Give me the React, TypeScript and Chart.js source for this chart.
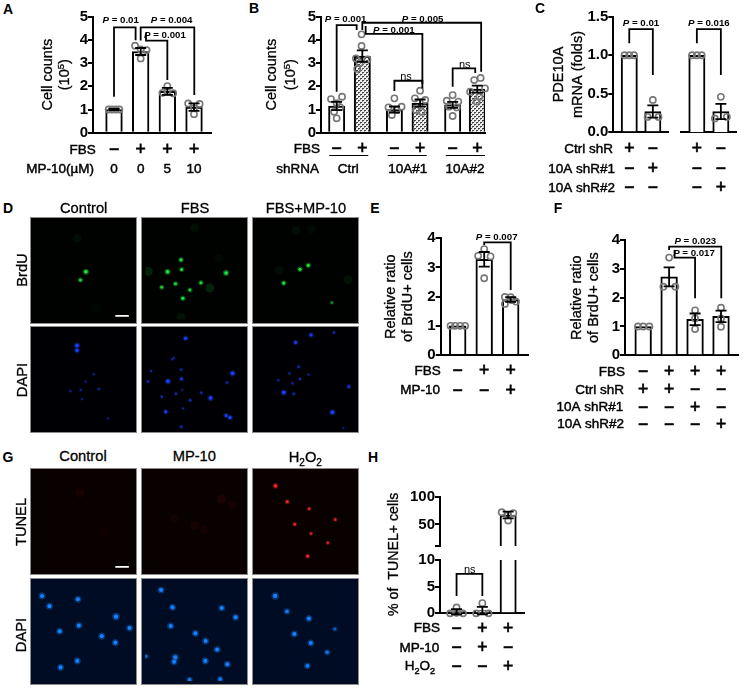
import React, { useEffect, useRef } from "react";
import { Chart, registerables } from "chart.js";

Chart.register(...registerables);

const FONT = '"Liberation Sans"';

// ---------- A ----------
const aX = [1, 2, 3, 4];
const aMeans = [1.0, 3.5, 1.78, 1.1];
const aErrs = [0.03, 0.15, 0.15, 0.16];
const aPoints = [[1, 1, 1, 1], [3.75, 3.56, 3.59, 3.2], [2.01, 1.72, 1.7, 1.77], [1.26, 1.24, 1.05, 0.8]];
const aJitter = [[-0.2, -0.07, 0.07, 0.2], [-0.21, 0.22, 0, 0], [0, -0.18, 0.22, 0], [-0.22, 0.21, 0, 0]];
const aFbs = ["-", "+", "+", "+"];
const aMp10 = ["0", "0", "5", "10"];

// ---------- B ----------
const bX = [1, 2, 3.25, 4.25, 5.52, 6.48];
const bMeans = [1.15, 3.3, 1.0, 1.28, 1.2, 1.88];
const bErrs = [0.18, 0.25, 0.13, 0.15, 0.13, 0.15];
const bPoints = [
  [1.45, 1.55, 1.27, 1.1, 0.9, 0.62],
  [4.24, 3.74, 3.2, 3.16, 3.0, 2.75],
  [1.48, 1.12, 1.09, 0.98, 0.76],
  [1.81, 1.48, 1.41, 0.98, 0.9],
  [1.62, 1.38, 1.34, 1.12, 1.09, 0.72],
  [2.36, 2.27, 1.91, 1.77, 1.55, 1.34],
];
const bJitter = [
  [-0.22, 0.21, 0, 0.13, -0.1, 0],
  [-0.03, -0.03, -0.25, 0.2, -0.1, -0.2],
  [0, 0.28, -0.23, 0.09, -0.1],
  [0, -0.2, 0.2, -0.16, 0.06],
  [0, -0.23, 0.22, -0.14, 0.16, 0],
  [0.13, -0.12, 0.3, -0.28, 0.08, -0.03],
];
const bFbs = ["-", "+", "-", "+", "-", "+"];
const bGroups = ["Ctrl", "10A#1", "10A#2"];

// ---------- C ----------
const cX = [1, 2];
const c1Means = [1.0, 0.27];
const c1Errs = [0.0, 0.08];
const c1Points = [[1, 1, 1], [0.42, 0.2, 0.2]];
const c1Jitter = [[-0.2, 0, 0.2], [0, -0.22, 0.24]];
const c2Means = [1.0, 0.27];
const c2Errs = [0.0, 0.1];
const c2Points = [[1, 1, 1], [0.46, 0.18, 0.2]];
const c2Jitter = [[-0.2, 0, 0.2], [0, -0.25, 0.25]];

// ---------- E ----------
const eX = [1, 2, 3];
const eMeans = [1.0, 3.28, 1.9];
const eErrs = [0.0, 0.25, 0.08];
const ePoints = [[1, 1, 1, 1], [3.63, 3.4, 3.38, 2.63], [1.99, 1.98, 1.75, 1.83, 1.88]];
const eJitter = [[-0.27, -0.1, 0.09, 0.28], [0, -0.23, 0.24, 0], [-0.22, 0, -0.22, 0.2, 0.05]];

// ---------- F ----------
const fX = [1, 2, 3, 4];
const fMeans = [1.0, 2.72, 1.25, 1.35];
const fErrs = [0.0, 0.33, 0.2, 0.2];
const fPoints = [[1, 1, 1], [3.39, 2.38, 2.38], [1.56, 1.28, 0.91], [1.65, 1.28, 0.99]];
const fJitter = [[-0.2, 0, 0.24], [0, -0.22, 0.24], [0, 0, 0], [0, 0, 0]];

// ---------- H ----------
const hX = [1, 2, 3];
const hMeansLow = [0.3, 0.5, 67];
const hErrsLow = [0.5, 0.7, null];
const hPointsLow = [[0, 1.1, 0, 0.1], [0, 1.9, 0], []];
const hJitterLow = [[-0.25, 0, 0.25, 0], [-0.24, 0, 0.24], []];
const hMeansHigh = [null, null, 67];
const hErrsHigh = [null, null, 6];
const hPointsHigh = [[], [], [72, 70.5, 57, 67]];
const hJitterHigh = [[], [], [-0.25, 0.2, 0, 0]];

// ---------- shared row labels ----------
const rowCtrlC1 = ["+", "-"];
const rowShr1C1 = ["-", "+"];
const rowShr2C1 = ["-", "-"];
const rowCtrlC2 = ["+", "-"];
const rowShr1C2 = ["-", "-"];
const rowShr2C2 = ["-", "+"];
const eFbs = ["-", "+", "+"];
const eMp10 = ["-", "-", "+"];
const fFbs = ["-", "+", "+", "+"];
const fCtrl = ["+", "+", "-", "-"];
const fShr1 = ["-", "-", "+", "-"];
const fShr2 = ["-", "-", "-", "+"];
const hFbs = ["-", "+", "+"];
const hMp10 = ["-", "+", "-"];
const hH2o2 = ["-", "-", "+"];

// ---------- image panels: x, y, intensity ----------
const brduControl = [[168, 164, 1], [150, 191, 0.8], [139, 55, 0.05], [200, 280, 0.025]];
const brduFbs = [[116, 125, 0.85], [118, 157, 0.8], [72, 164, 1], [263, 168, 1], [181, 200, 0.8], [98, 203, 0.8], [53, 215, 0.75], [145, 224, 0.75], [122, 251, 0.85], [210, 217, 0.14], [9, 163, 0.14], [116, 313, 0.07], [160, 20, 0.05], [240, 120, 0.04]];
const brduMp10 = [[169, 143, 0.85], [142, 156, 0.85], [89, 201, 0.85], [246, 265, 0.5], [299, 190, 0.07], [129, 30, 0.05], [74, 160, 0.05], [180, 25, 0.04]];
const dapiControl = [[139, 50, 1], [139, 66, 0.9], [193, 143, 0.4], [167, 167, 0.35], [118, 198, 0.4], [151, 194, 0.4], [210, 191, 0.45], [155, 223, 0.35], [239, 286, 0.35]];
const dapiFbs = [[131, 27, 0.85], [93, 91, 0.4], [87, 95, 0.35], [20, 133, 0.4], [10, 166, 0.5], [117, 128, 0.5], [118, 158, 0.7], [74, 166, 1], [283, 140, 1], [265, 170, 0.5], [121, 194, 0.35], [100, 206, 0.5], [182, 203, 0.5], [54, 216, 0.5], [146, 227, 0.55], [212, 220, 1], [123, 254, 0.4], [67, 264, 0.8], [262, 276, 0.8], [275, 283, 0.9], [117, 313, 0.5]];
const dapiMp10 = [[178, 16, 0.8], [252, 8, 0.5], [128, 40, 0.8], [138, 119, 0.5], [108, 140, 0.45], [170, 144, 0.4], [142, 158, 0.5], [72, 163, 0.45], [118, 173, 0.45], [300, 183, 0.7], [90, 202, 1], [122, 206, 0.5], [247, 266, 1], [282, 318, 0.35]];
const tunelControl = [[148, 67, 0.06], [224, 190, 0.03]];
const tunelMp10 = [[248, 87, 0.08], [161, 173, 0.06], [284, 105, 0.05], [95, 150, 0.04], [192, 188, 0.04]];
const tunelH2o2 = [[63, 45, 1], [101, 96, 0.85], [172, 119, 0.75], [256, 154, 0.7], [125, 169, 0.8], [178, 199, 0.7], [232, 229, 0.7], [167, 272, 0.85]];
const gDapiControl = [[26, 45, 0.9], [142, 56, 0.9], [50, 78, 0.9], [265, 112, 1], [145, 141, 0.9], [309, 149, 0.9], [83, 159, 0.9], [219, 175, 0.9], [263, 196, 0.9], [140, 255, 0.9], [86, 276, 0.9]];
const gDapiMp10 = [[52, 26, 0.9], [89, 82, 0.9], [248, 84, 0.9], [293, 114, 0.9], [83, 142, 0.9], [163, 166, 0.9], [196, 191, 0.9], [233, 218, 0.9], [4, 240, 0.6], [98, 243, 0.9], [94, 258, 0.9], [195, 255, 0.9], [266, 266, 0.9], [144, 316, 0.8], [243, 314, 0.8]];
const gDapiH2o2 = [[62, 45, 1], [100, 95, 0.8], [171, 118, 0.9], [255, 152, 0.55], [124, 168, 0.9], [177, 197, 0.9], [230, 227, 0.75], [166, 271, 0.85]];
const scaleBarData = [[264, 308, 1], [308, 308, 1]];

type Seg = { t: string; style?: string; weight?: string; size?: number; dy?: number };

const pLabel = (v: string): Seg[] => [
  { t: "P", style: "italic", weight: "bold", size: 9.7 },
  { t: " = " + v, weight: "bold", size: 9.7 },
];
const nsLabel: Seg[] = [{ t: "ns", size: 11 }];
const h2o2Label: Seg[] = [
  { t: "H", size: 13.5 },
  { t: "2", size: 9, dy: 4 },
  { t: "O", size: 13.5 },
  { t: "2", size: 9, dy: 4 },
];
const line = (t: string): Seg[] => [{ t, size: 14.5 }];
const countTitle: Seg[][] = [
  line("Cell counts"),
  [{ t: "(10", size: 14.5 }, { t: "5", size: 9.5, dy: -5 }, { t: ")", size: 14.5 }],
];

function drawRich(ctx: CanvasRenderingContext2D, segs: Seg[], x: number, cy: number, align: "left" | "center" | "right", heavy = 0.45) {
  const fontOf = (s: Seg) => `${s.style || "normal"} ${s.weight || "normal"} ${s.size || 13.5}px ${FONT}`;
  let total = 0;
  for (const s of segs) {
    ctx.font = fontOf(s);
    total += ctx.measureText(s.t).width;
  }
  let px = align === "left" ? x : align === "center" ? x - total / 2 : x - total;
  const base = Math.max(...segs.map((s) => s.size || 13.5));
  ctx.textAlign = "left";
  ctx.textBaseline = "alphabetic";
  ctx.fillStyle = "#000";
  for (const s of segs) {
    ctx.font = fontOf(s);
    const by = cy + base * 0.36 + (s.dy || 0);
    ctx.fillText(s.t, px, by);
    if (heavy > 0) {
      ctx.lineWidth = heavy;
      ctx.strokeStyle = "#000";
      ctx.strokeText(s.t, px, by);
    }
    px += ctx.measureText(s.t).width;
  }
}

const annotate = {
  id: "annotate",
  afterDatasetsDraw(chart: any, _a: any, o: any) {
    const { ctx, scales } = chart;
    const X = scales.x;
    const Y = scales.y;
    const spec = o.spec;
    if (!spec) return;
    ctx.save();
    ctx.strokeStyle = "#000";
    ctx.lineWidth = 1.8;
    // error bars
    (spec.errs || []).forEach((e: number | null, i: number) => {
      const m = spec.means[i];
      if (e === null || m === null || e === 0) return;
      const xp = X.getPixelForValue(spec.xs[i]);
      const yH = Y.getPixelForValue(m + e);
      const yL = Y.getPixelForValue(m - e);
      ctx.lineWidth = 1.8;
      ctx.beginPath();
      ctx.moveTo(xp, yH);
      ctx.lineTo(xp, yL);
      ctx.moveTo(xp - 5.5, yH);
      ctx.lineTo(xp + 5.5, yH);
      ctx.moveTo(xp - 5.5, yL);
      ctx.lineTo(xp + 5.5, yL);
      ctx.stroke();
    });
    // brackets
    (spec.brackets || []).forEach((b: number[]) => {
      const [x1, y1, top, x2, y2] = b;
      ctx.lineWidth = 1.8;
      ctx.strokeStyle = "#000";
      ctx.beginPath();
      ctx.moveTo(X.getPixelForValue(x1), Y.getPixelForValue(y1));
      ctx.lineTo(X.getPixelForValue(x1), Y.getPixelForValue(top));
      ctx.lineTo(X.getPixelForValue(x2), Y.getPixelForValue(top));
      ctx.lineTo(X.getPixelForValue(x2), Y.getPixelForValue(y2));
      ctx.stroke();
    });
    (spec.notes || []).forEach((n: any) => {
      drawRich(ctx, n.segs, X.getPixelForValue(n.x), Y.getPixelForValue(n.y), "center", n.heavy ?? 0);
    });
    // table under the axis
    (spec.rows || []).forEach((r: any) => {
      const cy = r.y - spec.top;
      const label: Seg[] = typeof r.label === "string" ? [{ t: r.label }] : r.label;
      if (r.label) drawRich(ctx, label, r.right - spec.left, cy, "right");
      const rx = r.xs || spec.xs;
      r.marks.forEach((m: string, i: number) => {
        const xp = X.getPixelForValue(rx[i]);
        if (m === "+" || m === "-") {
          const t = m === "+" ? "+" : "\u2212";
          drawRich(ctx, [{ t, size: 17.5 }], xp, cy, "center", 0.7);
        } else {
          drawRich(ctx, [{ t: m }], xp, cy, "center");
        }
      });
    });
    (spec.rules || []).forEach((u: number[]) => {
      ctx.lineWidth = 1.2;
      ctx.strokeStyle = "#000";
      ctx.beginPath();
      ctx.moveTo(X.getPixelForValue(u[0]), u[2] - spec.top);
      ctx.lineTo(X.getPixelForValue(u[1]), u[2] - spec.top);
      ctx.stroke();
    });
    // axis titles, rotated
    if (spec.title) {
      const cyT = (spec.yTop + spec.y0) / 2 - spec.top;
      spec.title.forEach((segs: Seg[], i: number) => {
        ctx.save();
        ctx.translate(spec.titleX - spec.left + i * spec.titleLh, cyT);
        ctx.rotate(-Math.PI / 2);
        drawRich(ctx, segs, 0, 0, "center", 0.3);
        ctx.restore();
      });
    }
    if (spec.sideTitle) {
      ctx.save();
      ctx.translate(spec.sideTitle.x - spec.left, spec.sideTitle.y - spec.top);
      ctx.rotate(-Math.PI / 2);
      drawRich(ctx, [{ t: spec.sideTitle.text, size: 14.2 }], 0, 0, "center", 0.3);
      ctx.restore();
    }
    ctx.restore();
  },
};

function hatch(ctx: CanvasRenderingContext2D) {
  const c = document.createElement("canvas");
  c.width = 4;
  c.height = 4;
  const g = c.getContext("2d")!;
  g.fillStyle = "#efefef";
  g.fillRect(0, 0, 4, 4);
  g.fillStyle = "#444";
  g.fillRect(0, 0, 2, 1);
  g.fillRect(2, 2, 2, 1);
  g.fillStyle = "#888";
  g.fillRect(0, 1, 1, 1);
  g.fillRect(2, 3, 1, 1);
  return ctx.createPattern(c, "repeat")!;
}

function barConfig(spec: any, ctx: CanvasRenderingContext2D) {
  const pts: { x: number; y: number }[] = [];
  spec.points.forEach((vals: number[], i: number) =>
    vals.forEach((v, j) => pts.push({ x: spec.xs[i] + spec.jitter[i][j], y: v }))
  );
  const tickFn = spec.tickLabel || ((v: number) => String(v));
  const width = spec.axisX - spec.left;
  const pattern = hatch(ctx);
  return {
    type: "bar",
    data: {
      datasets: [
        {
          type: "scatter",
          data: pts,
          pointRadius: 3.1,
          pointBorderWidth: 1.6,
          pointBorderColor: "#777",
          pointBackgroundColor: "rgba(0,0,0,0)",
          clip: false,
          order: 1,
        },
        {
          type: "bar",
          data: spec.xs.map((x: number, i: number) => ({ x, y: spec.means[i] })),
          barThickness: spec.barW,
          backgroundColor: spec.xs.map((_: number, i: number) => (spec.patterned && i % 2 === 1 ? pattern : "#fff")),
          borderColor: "#000",
          borderWidth: 2,
          borderSkipped: "bottom",
          order: 2,
        },
      ],
    },
    options: {
      responsive: false,
      animation: false,
      events: [],
      layout: { padding: { left: 0, top: spec.yTop - spec.top, bottom: spec.top + spec.height - spec.y0, right: spec.left + spec.width - spec.xEnd } },
      plugins: { legend: { display: false }, tooltip: { enabled: false }, annotate: { spec } },
      scales: {
        x: {
          type: "linear",
          offset: false,
          min: spec.xMin,
          max: spec.xMax,
          grid: { display: false },
          ticks: { display: false },
          border: spec.noBase ? { display: false } : { display: true, color: "#000", width: 2 },
          afterFit: (s: any) => {
            s.height = 0;
          },
        },
        y: spec.hideY
          ? { display: false, min: spec.yMin, max: spec.yMax }
          : {
              type: "linear",
              min: spec.yMin,
              max: spec.yMax,
              afterBuildTicks: (s: any) => {
                s.ticks = spec.yTicks.map((value: number) => ({ value }));
              },
              grid: { display: true, drawOnChartArea: false, drawTicks: true, tickLength: 5, color: "#000", lineWidth: 2 },
              border: { display: true, color: "#000", width: 2 },
              ticks: { color: "#000", padding: 0, font: { family: FONT, size: 15, weight: "bold" }, callback: tickFn },
              afterFit: (s: any) => {
                s.width = width;
              },
            },
      },
    },
    plugins: [annotate],
  };
}

const barSpecs: any[] = [
  {
    left: 20, top: 0, width: 198, height: 180, axisX: 93, yTop: 16.7, y0: 132.7, xEnd: 211.7, xMin: 0.2126, xMax: 4.663, barW: 16.7,
    xs: aX, means: aMeans, errs: aErrs, points: aPoints, jitter: aJitter, yMin: 0, yMax: 5, yTicks: [0, 1, 2, 3, 4, 5],
    title: countTitle, titleX: 47, titleLh: 16.5,
    brackets: [[1, 1.55, 4.54, 1.81, 3.99], [2, 3.97, 4.54, 4.01, 1.62], [2.2, 4.3, 3.97, 3, 2.27]],
    notes: [{ x: 1.25, y: 4.86, segs: pLabel("0.01") }, { x: 3.16, y: 4.86, segs: pLabel("0.004") }, { x: 2.91, y: 4.24, segs: pLabel("0.001") }],
    rows: [{ label: "FBS", y: 149, right: 95.7, marks: aFbs }, { label: "MP-10(\u00b5M)", y: 168, right: 94, marks: aMp10 }],
  },
  {
    left: 262, top: 0, width: 230, height: 180, axisX: 321, yTop: 16.7, y0: 132.7, xEnd: 485, xMin: 0.39, xMax: 6.78, barW: 16.3, patterned: true,
    xs: bX, means: bMeans, errs: bErrs, points: bPoints, jitter: bJitter, yMin: 0, yMax: 5, yTicks: [0, 1, 2, 3, 4, 5],
    title: countTitle, titleX: 271, titleLh: 19,
    brackets: [[1, 1.77, 4.64, 1.78, 4.43], [2, 4.43, 4.74, 6.63, 2.63], [2.13, 4.6, 4.26, 4.34, 1.9], [3.25, 1.8, 2.24, 4.34, 2.1], [5.52, 1.98, 2.77, 6.4, 2.57]],
    notes: [
      { x: 1.35, y: 4.93, segs: pLabel("0.001") }, { x: 4.35, y: 4.93, segs: pLabel("0.005") }, { x: 3.23, y: 4.45, segs: pLabel("0.001") },
      { x: 3.7, y: 2.45, segs: nsLabel }, { x: 5.99, y: 2.95, segs: nsLabel },
    ],
    rows: [{ label: "FBS", y: 148, right: 320, marks: bFbs }, { label: "shRNA", y: 168, right: 319, marks: bGroups, xs: [1.45, 3.77, 6.0] }],
    rules: [[0.71, 2.23, 155.5], [2.99, 4.51, 155.5], [5.25, 6.78, 155.5]],
  },
  {
    left: 540, top: 0, width: 134, height: 196, axisX: 613.3, yTop: 16.7, y0: 132.3, xEnd: 671, xMin: 0.323, xMax: 2.66, barW: 16.3,
    xs: cX, means: c1Means, errs: c1Errs, points: c1Points, jitter: c1Jitter, yMin: 0, yMax: 1.5, yTicks: [0, 0.5, 1, 1.5],
    tickLabel: (v: number) => v.toFixed(1),
    title: [line("PDE10A"), line("mRNA (folds)")], titleX: 558, titleLh: 18.7,
    brackets: [[1, 1.154, 1.34, 2, 0.744]],
    notes: [{ x: 1.5, y: 1.42, segs: pLabel("0.01") }],
    rows: [{ label: "Ctrl shR", y: 148, right: 613, marks: rowCtrlC1 }, { label: "10A shR#1", y: 168, right: 615, marks: rowShr1C1 }, { label: "10A shR#2", y: 186.7, right: 615, marks: rowShr2C1 }],
  },
  {
    left: 675, top: 0, width: 69, height: 196, axisX: 679, yTop: 16.7, y0: 132.3, xEnd: 736.7, xMin: 0.323, xMax: 2.66, barW: 16.3, hideY: true,
    xs: cX, means: c2Means, errs: c2Errs, points: c2Points, jitter: c2Jitter, yMin: 0, yMax: 1.5, yTicks: [0, 0.5, 1, 1.5],
    brackets: [[1, 1.154, 1.34, 2, 0.744]],
    notes: [{ x: 1.5, y: 1.42, segs: pLabel("0.016") }],
    rows: [{ label: "", y: 148, right: 0, marks: rowCtrlC2 }, { label: "", y: 168, right: 0, marks: rowShr1C2 }, { label: "", y: 186.7, right: 0, marks: rowShr2C2 }],
  },
  {
    left: 372, top: 225, width: 162, height: 175, axisX: 440.7, yTop: 238.3, y0: 355, xEnd: 528.3, xMin: 0.358, xMax: 3.664, barW: 16.7,
    xs: eX, means: eMeans, errs: eErrs, points: ePoints, jitter: eJitter, yMin: 0, yMax: 4, yTicks: [0, 1, 2, 3, 4],
    title: [line("Relative ratio"), line("of BrdU+ cells")], titleX: 390, titleLh: 16.7,
    brackets: [[2, 3.77, 3.86, 3, 2.23]],
    notes: [{ x: 2.47, y: 4.07, segs: pLabel("0.007") }],
    rows: [{ label: "FBS", y: 370, right: 440.7, marks: eFbs }, { label: "MP-10", y: 389.3, right: 440, marks: eMp10 }],
  },
  {
    left: 550, top: 225, width: 194, height: 208, axisX: 625, yTop: 240, y0: 355.3, xEnd: 741.7, xMin: 0.3, xMax: 4.67, barW: 16.7,
    xs: fX, means: fMeans, errs: fErrs, points: fPoints, jitter: fJitter, yMin: 0, yMax: 4, yTicks: [0, 1, 2, 3, 4],
    title: [line("Relative ratio"), line("of BrdU+ cells")], titleX: 575.7, titleLh: 16.6,
    brackets: [[2, 3.65, 3.77, 4.01, 1.98], [2.21, 3.65, 3.39, 3, 1.98]],
    notes: [{ x: 3.01, y: 3.98, segs: pLabel("0.023") }, { x: 2.96, y: 3.58, segs: pLabel("0.017") }],
    rows: [
      { label: "FBS", y: 370.7, right: 625, marks: fFbs }, { label: "Ctrl shR", y: 388.7, right: 624, marks: fCtrl },
      { label: "10A shR#1", y: 406.3, right: 623.3, marks: fShr1 }, { label: "10A shR#2", y: 423.3, right: 624, marks: fShr2 },
    ],
  },
  {
    left: 385, top: 485, width: 145, height: 70, axisX: 440, yTop: 496.7, y0: 550, xEnd: 526.7, xMin: 0.358, xMax: 3.63, barW: 16.3, noBase: true,
    xs: hX, means: hMeansHigh, errs: hErrsHigh, points: hPointsHigh, jitter: hJitterHigh, yMin: 11, yMax: 100, yTicks: [11, 50, 100],
    tickLabel: (v: number) => (v === 11 ? "" : String(v)),
  },
  {
    left: 385, top: 485, width: 145, height: 195, axisX: 440, yTop: 560, y0: 613.3, xEnd: 526.7, xMin: 0.358, xMax: 3.63, barW: 16.3,
    xs: hX, means: hMeansLow, errs: hErrsLow, points: hPointsLow, jitter: hJitterLow, yMin: 0, yMax: 10, yTicks: [0, 5, 10],
    brackets: [[1, 3.25, 7.4, 2, 3.25]],
    notes: [{ x: 1.51, y: 8.25, segs: nsLabel }],
    sideTitle: { text: "% of  TUNEL+ cells", x: 393.3, y: 554.3 },
    rows: [
      { label: "FBS", y: 627.3, right: 440, marks: hFbs }, { label: "MP-10", y: 646.7, right: 439.3, marks: hMp10 },
      { label: h2o2Label, y: 665.5, right: 435, marks: hH2o2 },
    ],
  },
];

const imageSpecs: any[] = [
  { left: 30.3, top: 216.7, size: 107, data: brduControl, rgb: "30,235,60", bg: "#000200", bar: true, gain: 1.1 },
  { left: 141.3, top: 216.7, size: 107, data: brduFbs, rgb: "30,235,60", bg: "#000200", gain: 1.1 },
  { left: 252.2, top: 216.7, size: 107, data: brduMp10, rgb: "30,235,60", bg: "#000200", gain: 1.1 },
  { left: 30.3, top: 326, size: 107, data: dapiControl, rgb: "25,65,255", bg: "#000004", gain: 1.1 },
  { left: 141.3, top: 326, size: 107, data: dapiFbs, rgb: "25,65,255", bg: "#000004", gain: 1.1 },
  { left: 252.2, top: 326, size: 107, data: dapiMp10, rgb: "25,65,255", bg: "#000004", gain: 1.1 },
  { left: 30.3, top: 468.3, size: 107, data: tunelControl, rgb: "255,40,30", bg: "#090000", bar: true, gain: 1 },
  { left: 141.3, top: 468.3, size: 107, data: tunelMp10, rgb: "255,40,30", bg: "#090000", gain: 1 },
  { left: 252.2, top: 468.3, size: 107, data: tunelH2o2, rgb: "255,40,30", bg: "#090000", gain: 1 },
  { left: 30.3, top: 578.3, size: 107, data: gDapiControl, rgb: "20,130,255", bg: "#000b24", gain: 1.35 },
  { left: 141.3, top: 578.3, size: 107, data: gDapiMp10, rgb: "20,130,255", bg: "#000b24", gain: 1.35 },
  { left: 252.2, top: 578.3, size: 107, data: gDapiH2o2, rgb: "20,130,255", bg: "#000b24", gain: 1.35 },
];

function imageConfig(spec: any) {
  const xy = (p: number[]) => ({ x: p[0], y: p[1] });
  const datasets: any[] = [
    {
      data: spec.data.map(xy),
      pointRadius: spec.data.map((p: number[]) => (p[2] < 0.3 ? 4.5 : (1.2 + p[2] * 1.6) * spec.gain)),
      pointBackgroundColor: spec.data.map((p: number[]) => `rgba(${spec.rgb},${p[2] < 0.3 ? p[2] : p[2] * 0.35})`),
      pointBorderWidth: 0,
      clip: 0,
    },
    {
      data: spec.data.map(xy),
      pointRadius: spec.data.map((p: number[]) => (p[2] < 0.3 ? 0 : (0.6 + p[2] * 1.0) * spec.gain)),
      pointBackgroundColor: spec.data.map((p: number[]) => `rgba(${spec.rgb},${Math.min(1, p[2] + 0.1)})`),
      pointBorderWidth: 0,
      clip: 0,
    },
  ];
  if (spec.bar) {
    datasets.push({
      data: scaleBarData.map(xy),
      showLine: true,
      borderColor: "#fff",
      borderWidth: 1.8,
      pointRadius: 0,
    });
  }
  return {
    type: "scatter",
    data: { datasets },
    options: {
      responsive: false,
      animation: false,
      events: [],
      layout: { padding: 0 },
      plugins: { legend: { display: false }, tooltip: { enabled: false } },
      scales: {
        x: { display: false, min: 0, max: 320 },
        y: { display: false, min: 0, max: 320, reverse: true },
      },
    },
  };
}

const labels: any[] = [
  { t: "A", x: 8, y: 9, b: true, s: 14 }, { t: "B", x: 254, y: 8, b: true, s: 14 }, { t: "C", x: 540, y: 8, s: 14, b: true },
  { t: "D", x: 8, y: 208, b: true, s: 14 }, { t: "E", x: 375, y: 208, b: true, s: 14 }, { t: "F", x: 558, y: 208, b: true, s: 14 },
  { t: "G", x: 8, y: 456.5, b: true, s: 14 }, { t: "H", x: 373, y: 456.5, b: true, s: 14 },
  { t: "Control", x: 83.7, y: 207.7 }, { t: "FBS", x: 195, y: 207.7 }, { t: "FBS+MP-10", x: 306, y: 207.7 },
  { t: "BrdU", x: 21.7, y: 270, r: true }, { t: "DAPI", x: 21.7, y: 380, r: true },
  { t: "Control", x: 83, y: 456 }, { t: "MP-10", x: 194.3, y: 456 },
  { t: "H2O2", x: 305.3, y: 457, h: true },
  { t: "TUNEL", x: 21, y: 521.7, r: true }, { t: "DAPI", x: 21, y: 635, r: true },
];

export default function App() {
  const barRefs = useRef<(HTMLCanvasElement | null)[]>([]);
  const imgRefs = useRef<(HTMLCanvasElement | null)[]>([]);
  useEffect(() => {
    const charts: Chart[] = [];
    barSpecs.forEach((s, i) => {
      const c = barRefs.current[i]!;
      charts.push(new Chart(c, barConfig(s, c.getContext("2d")!) as any));
    });
    imageSpecs.forEach((s, i) => {
      charts.push(new Chart(imgRefs.current[i]!, imageConfig(s) as any));
    });
    return () => charts.forEach((c) => c.destroy());
  }, []);
  return (
    <div style={{ position: "fixed", left: 0, top: 0, width: 744, height: 688, background: "#fff", overflow: "hidden", fontFamily: FONT, color: "#000" }}>
      {imageSpecs.map((s, i) => (
        <canvas
          key={"i" + i}
          ref={(el) => {
            imgRefs.current[i] = el;
          }}
          width={s.size}
          height={s.size}
          style={{ position: "absolute", left: s.left, top: s.top, width: s.size, height: s.size, background: s.bg, outline: "1px solid #8c8c8c", outlineOffset: -1, filter: "blur(0.45px)" }}
        />
      ))}
      {barSpecs.map((s, i) => (
        <canvas
          key={"b" + i}
          ref={(el) => {
            barRefs.current[i] = el;
          }}
          width={s.width}
          height={s.height}
          style={{ position: "absolute", left: s.left, top: s.top, width: s.width, height: s.height, filter: "blur(0.3px)" }}
        />
      ))}
      {labels.map((l, i) => (
        <div
          key={"l" + i}
          style={{
            position: "absolute",
            left: l.x,
            top: l.y,
            fontSize: l.s || 14.7,
            fontWeight: l.b ? 700 : 400,
            lineHeight: 1,
            whiteSpace: "nowrap",
            transform: `translate(-50%,-50%)${l.r ? " rotate(-90deg)" : ""}`,
            WebkitTextStroke: l.b ? undefined : "0.3px #000",
          }}
        >
          {l.h ? (
            <>
              H<span style={{ fontSize: 10, position: "relative", top: 4 }}>2</span>O<span style={{ fontSize: 10, position: "relative", top: 4 }}>2</span>
            </>
          ) : (
            l.t
          )}
        </div>
      ))}
    </div>
  );
}
